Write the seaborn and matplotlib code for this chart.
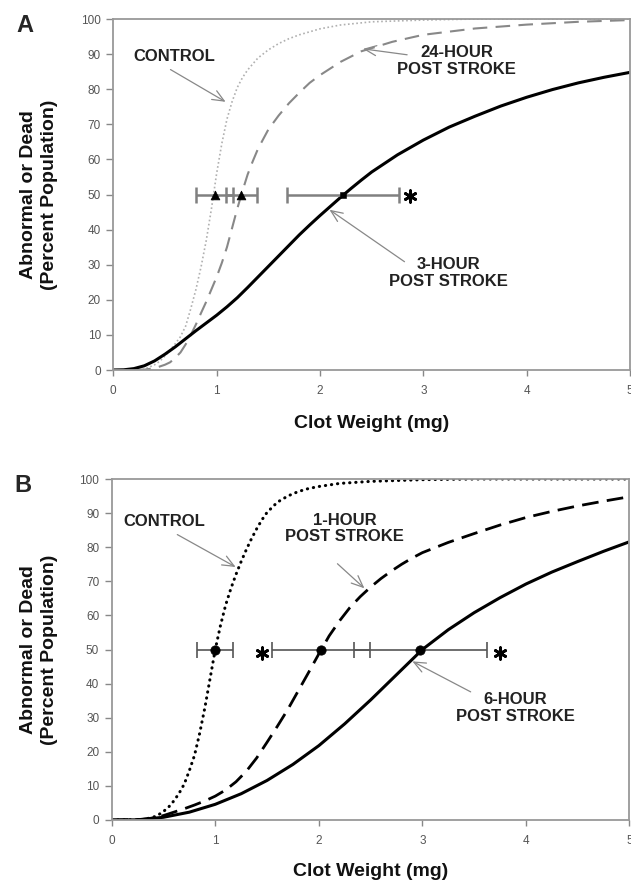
import matplotlib
matplotlib.use("Agg")
import matplotlib.pyplot as plt
import seaborn as sns

# ---- panel A: values (clot weight mg, % abnormal or dead)
a_ctrl_x = [0, 0.2, 0.3, 0.4, 0.45, 0.5, 0.55, 0.6, 0.65, 0.7, 0.75, 0.8, 0.85, 0.9, 0.95, 1.0, 1.05,
            1.1, 1.15, 1.2, 1.25, 1.3, 1.4, 1.5, 1.6, 1.7, 1.8, 2.0, 2.2, 2.5, 3.0, 3.5, 5.0]
a_ctrl_y = [0, 0, 0.2, 1.5, 2.5, 4, 5.7, 7.5, 9.5, 12.5, 17.5, 23, 29.5, 37, 46, 56, 64.5,
            71.5, 76.5, 80.5, 83.3, 85.5, 88.9, 91.2, 93, 94.4, 95.5, 97.2, 98.3, 99.2, 99.7, 100, 100]
a_24h_x = [0, 0.3, 0.4, 0.5, 0.55, 0.6, 0.65, 0.7, 0.75, 0.8, 0.85, 0.9, 0.95, 1.0, 1.05, 1.1, 1.15, 1.2,
           1.25, 1.3, 1.35, 1.4, 1.5, 1.6, 1.7, 1.8, 1.9, 2.0, 2.2, 2.4, 2.7, 3.0, 3.5, 4.0, 4.5, 5.0]
a_24h_y = [0, 0.1, 0.5, 1.5, 2.2, 3.5, 5, 7.3, 10, 13, 16.3, 19.5, 23, 26.5, 30.5, 35, 40.5, 46,
           51, 55.7, 59.5, 63, 68.5, 72.5, 76, 79, 81.8, 84, 87.8, 90.8, 93.5, 95.5, 97.3, 98.4, 99.2, 99.7]
a_3h_x = [0, 0.1, 0.2, 0.3, 0.4, 0.5, 0.6, 0.7, 0.8, 0.9, 1.0, 1.1, 1.2, 1.3, 1.4, 1.5, 1.6, 1.7, 1.8,
          1.9, 2.0, 2.1, 2.2, 2.3, 2.4, 2.5, 2.75, 3.0, 3.25, 3.5, 3.75, 4.0, 4.25, 4.5, 4.75, 5.0]
a_3h_y = [0, 0.05, 0.4, 1.2, 2.6, 4.5, 6.6, 8.9, 11.2, 13.4, 15.6, 18, 20.6, 23.5, 26.5, 29.5, 32.5, 35.5, 38.5,
          41.3, 44, 46.6, 49.2, 51.7, 54.1, 56.4, 61.3, 65.5, 69.2, 72.3, 75.2, 77.7, 79.9, 81.8, 83.4, 84.8]

a_ed50 = [0.98, 1.24, 2.22]
a_ed50_err = [0.18, 0.15, 0.54]
a_markers = ["^", "^", "s"]
a_star_x = [2.87]

# ---- panel B
b_ctrl_x = [0, 0.3, 0.4, 0.45, 0.5, 0.55, 0.6, 0.65, 0.7, 0.75, 0.8, 0.85, 0.9, 0.95, 1.0, 1.05, 1.1, 1.15,
            1.2, 1.25, 1.3, 1.35, 1.4, 1.45, 1.5, 1.6, 1.7, 1.8, 1.9, 2.0, 2.2, 2.5, 3.0, 3.5, 5.0]
b_ctrl_y = [0, 0.1, 0.8, 1.5, 2.5, 3.8, 5.6, 7.8, 10.5, 14.5, 19, 25.5, 33, 41.5, 50, 57, 63, 67.8,
            72, 75.8, 79.3, 82.5, 85.4, 88, 90.2, 93.2, 95, 96.3, 97.2, 97.8, 98.7, 99.3, 99.8, 100, 100]
b_1h_x = [0, 0.3, 0.4, 0.5, 0.6, 0.7, 0.8, 0.9, 1.0, 1.1, 1.2, 1.3, 1.4, 1.5, 1.6, 1.7, 1.8, 1.9, 2.0,
          2.1, 2.2, 2.3, 2.4, 2.5, 2.6, 2.7, 2.8, 2.9, 3.0, 3.25, 3.5, 3.75, 4.0, 4.25, 4.5, 4.75, 5.0]
b_1h_y = [0, 0.2, 0.6, 1.3, 2.3, 3.3, 4.4, 5.6, 7, 8.8, 11.2, 14.3, 18.2, 22.8, 27.5, 32.4, 37.8, 43.2, 48.7,
          54, 58.4, 62.3, 65.5, 68.3, 70.8, 73, 75, 76.8, 78.4, 81.4, 84, 86.5, 88.7, 90.5, 92.1, 93.5, 94.8]
b_6h_x = [0, 0.25, 0.5, 0.75, 1.0, 1.25, 1.5, 1.75, 2.0, 2.25, 2.5, 2.75, 3.0, 3.25, 3.5, 3.75, 4.0,
          4.25, 4.5, 4.75, 5.0]
b_6h_y = [0, 0.05, 0.8, 2.3, 4.6, 7.7, 11.6, 16.3, 21.8, 28.2, 35.2, 42.6, 50, 55.8, 60.8, 65.2, 69.2,
          72.7, 75.8, 78.8, 81.6]

b_ed50 = [1.0, 2.02, 2.98]
b_ed50_err = [0.175, 0.47, 0.64]
b_star_x = [1.45, 3.75]

x_ticks = [0, 1, 2, 3, 4, 5]
y_ticks = list(range(0, 101, 10))

sns.set_theme(style="white")
plt.rcParams["font.family"] = ["Liberation Sans", "DejaVu Sans"]

fig = plt.figure(figsize=(6.31, 8.84), dpi=100)
axA = fig.add_axes([113.3 / 631, 1 - 370 / 884, (630 - 113.3) / 631, 351 / 884])
axB = fig.add_axes([111.7 / 631, 1 - 820 / 884, (629.5 - 111.7) / 631, 341 / 884])

txt_kw = dict(fontsize=12, fontweight="bold", color="#222222", ha="center", va="center", linespacing=1.15)
arr_kw = dict(arrowstyle="->,head_length=0.7,head_width=0.3", color="#888888", lw=0.9)


def style_axes(ax, ylab_x):
    ax.set_xlim(0, 5)
    ax.set_ylim(0, 100)
    ax.set_xticks(x_ticks)
    ax.set_yticks(y_ticks)
    for s in ax.spines.values():
        s.set_visible(True)
        s.set_color("#999999")
        s.set_linewidth(1.3)
    ax.tick_params(axis="y", direction="out", length=5, width=1, color="#888888",
                   labelcolor="#555555", labelsize=8.5, pad=4, left=True)
    ax.tick_params(axis="x", direction="out", length=4, width=1, color="#888888",
                   labelcolor="#555555", labelsize=8.5, pad=7, bottom=True)
    ax.set_xlabel("Clot Weight (mg)", fontsize=14, fontweight="bold", color="#111111", va="center")
    ax.xaxis.set_label_coords(0.5, -0.151)
    ax.set_ylabel("Abnormal or Dead\n(Percent Population)", fontsize=14, fontweight="bold",
                  color="#111111", va="center", linespacing=1.3)
    ax.yaxis.set_label_coords(ylab_x, 0.5)


# panel A
sns.lineplot(x=a_ctrl_x, y=a_ctrl_y, ax=axA, color="#b0b0b0", lw=1.2, linestyle=(0, (1, 1.5)))
sns.lineplot(x=a_24h_x, y=a_24h_y, ax=axA, color="#888888", lw=1.5, linestyle=(0, (7, 4)))
sns.lineplot(x=a_3h_x, y=a_3h_y, ax=axA, color="black", lw=2.2)
axA.errorbar(a_ed50, [50] * 3, xerr=a_ed50_err, fmt="none", ecolor="#808080",
             elinewidth=1.8, capsize=5.5, capthick=1.8, zorder=4)
for x, m in zip(a_ed50, a_markers):
    sns.scatterplot(x=[x], y=[50], ax=axA, marker=m, s=40 if m == "^" else 25,
                    color="black", edgecolor="black", zorder=5)
axA.scatter(a_star_x, [49.5] * len(a_star_x), marker=(6, 2, 0), s=70, color="black", lw=2, zorder=5)

axA.text(0.59, 89.3, "CONTROL", **txt_kw)
axA.annotate("", xy=(1.11, 76), xytext=(0.53, 86), arrowprops=arr_kw)
axA.text(3.32, 88, "24-HOUR\nPOST STROKE", **txt_kw)
axA.annotate("", xy=(2.39, 91.6), xytext=(2.87, 89.7), arrowprops=arr_kw)
axA.text(3.24, 27.6, "3-HOUR\nPOST STROKE", **txt_kw)
axA.annotate("", xy=(2.07, 46.1), xytext=(2.84, 30.4), arrowprops=arr_kw)
style_axes(axA, -0.1438)

# panel B
sns.lineplot(x=b_ctrl_x, y=b_ctrl_y, ax=axB, color="black", lw=2.2,
             linestyle=(0, (0.1, 1.9)), dash_capstyle="round")
sns.lineplot(x=b_1h_x, y=b_1h_y, ax=axB, color="black", lw=2.0, linestyle=(0, (6, 3)))
sns.lineplot(x=b_6h_x, y=b_6h_y, ax=axB, color="black", lw=2.2)
axB.errorbar(b_ed50, [50] * 3, xerr=b_ed50_err, fmt="none", ecolor="#555555",
             elinewidth=1.2, capsize=5.5, capthick=1.2, zorder=4)
sns.scatterplot(x=b_ed50, y=[50] * 3, ax=axB, marker="o", s=45, color="black",
                edgecolor="black", zorder=5)
axB.scatter(b_star_x, [49.0] * len(b_star_x), marker=(6, 2, 0), s=70, color="black", lw=2, zorder=5)

axB.text(0.51, 87.5, "CONTROL", **txt_kw)
axB.annotate("", xy=(1.22, 73.8), xytext=(0.61, 84.1), arrowprops=arr_kw)
axB.text(2.25, 85.5, "1-HOUR\nPOST STROKE", **txt_kw)
axB.annotate("", xy=(2.46, 67.4), xytext=(2.16, 75.7), arrowprops=arr_kw)
axB.text(3.90, 32.9, "6-HOUR\nPOST STROKE", **txt_kw)
axB.annotate("", xy=(2.88, 46.9), xytext=(3.49, 37.2), arrowprops=arr_kw)
style_axes(axB, -0.140)
axB.xaxis.set_label_coords(0.5, -0.15)

fig.text(25 / 631, 1 - 25 / 884, "A", fontsize=17, fontweight="bold", ha="center", va="center")
fig.text(23 / 631, 1 - 485 / 884, "B", fontsize=17, fontweight="bold", ha="center", va="center")

fig.savefig("out.png", dpi=100)
